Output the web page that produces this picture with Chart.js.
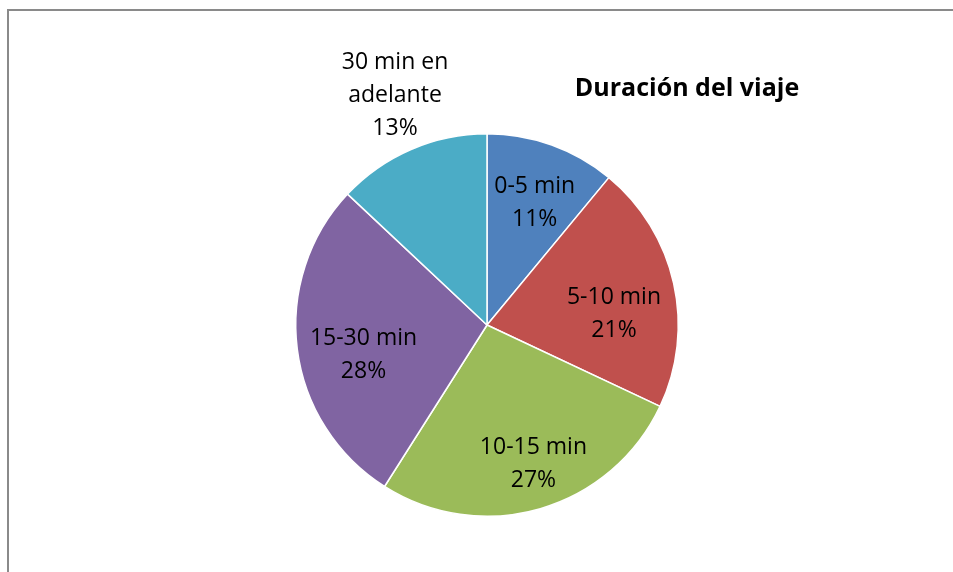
<!DOCTYPE html>
<html>
<head>
<meta charset="utf-8">
<script src="https://cdn.jsdelivr.net/npm/chart.js@4.4.1/dist/chart.umd.min.js"></script>
<style>
  html, body { margin: 0; padding: 0; background: #fff; }
  #wrap { position: relative; width: 953px; height: 572px; }
  #frame { position: absolute; left: 7px; top: 9px; right: 0; bottom: 0;
           border-left: 2px solid #8a8a8a; border-top: 2px solid #8a8a8a; }
  canvas { position: absolute; left: 0; top: 0; }
</style>
</head>
<body>
<div id="wrap">
  <div id="frame"></div>
  <canvas id="pie" width="953" height="572"></canvas>
</div>
<script>
// data
const categories = ["0-5 min", "5-10 min", "10-15 min", "15-30 min", "30 min en adelante"];
const labelLines = [["0-5 min"], ["5-10 min"], ["10-15 min"], ["15-30 min"], ["30 min en", "adelante"]];
const percents = [11, 21, 27, 28, 13];
const colors = ["#4F81BD", "#C0504D", "#9BBB59", "#8064A2", "#4BACC6"];
const chartTitle = "Duración del viaje";

// label placement: fraction of radius along mid angle, plus small nudges
const labelRadius = [0.69, 0.6, 0.72, 0.73, 1.29];
const labelNudge = [[3, 2], [15, 14], [8, 7], [15, 12], [6, -3]];

const FONT = "'Open Sans', 'Noto Sans', sans-serif";

const pieLabels = {
  id: "pieLabels",
  afterDraw(chart) {
    const ctx = chart.ctx;
    const arcs = chart.getDatasetMeta(0).data;
    ctx.save();
    ctx.fillStyle = "#000";
    ctx.textAlign = "center";
    ctx.textBaseline = "middle";
    ctx.font = "23px " + FONT;
    arcs.forEach((arc, i) => {
      const p = arc.getProps(["x", "y", "startAngle", "endAngle", "outerRadius"], true);
      const mid = (p.startAngle + p.endAngle) / 2;
      const r = p.outerRadius * labelRadius[i];
      const cx = p.x + Math.cos(mid) * r + labelNudge[i][0];
      const cy = p.y + Math.sin(mid) * r + labelNudge[i][1];
      const lines = labelLines[i].concat([percents[i] + "%"]);
      const lh = 33;
      const top = cy - (lines.length - 1) * lh / 2;
      lines.forEach((t, k) => ctx.fillText(t, cx, top + k * lh));
    });
    ctx.font = "bold 25px " + FONT;
    ctx.fillText(chartTitle, 687, 89);
    ctx.restore();
  }
};

new Chart(document.getElementById("pie"), {
  type: "pie",
  data: {
    labels: categories,
    datasets: [{
      data: percents,
      backgroundColor: colors,
      borderColor: "#ffffff",
      borderWidth: 1.5
    }]
  },
  options: {
    responsive: false,
    animation: false,
    layout: { padding: { left: 295, right: 274, top: 133, bottom: 55 } },
    plugins: {
      legend: { display: false },
      tooltip: { enabled: false },
      title: { display: false }
    }
  },
  plugins: [pieLabels]
});
</script>
</body>
</html>
